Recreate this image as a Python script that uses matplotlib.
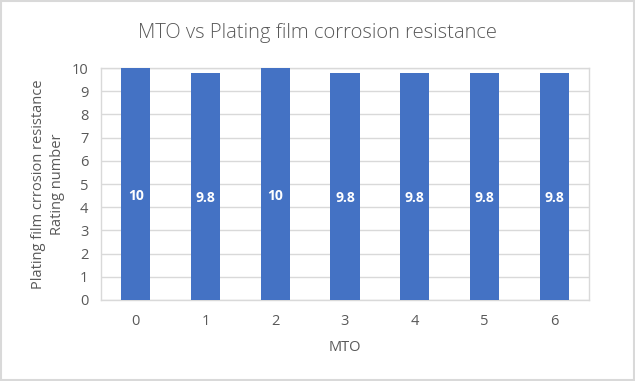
import matplotlib.pyplot as plt
import matplotlib.patches as mpatches

mto = ["0", "1", "2", "3", "4", "5", "6"]
rating = [10, 9.8, 10, 9.8, 9.8, 9.8, 9.8]
yticks = list(range(0, 11))

gray = "#595959"
plt.rcParams["font.family"] = ["Open Sans", "DejaVu Sans"]

fig = plt.figure(figsize=(6.35, 3.81), dpi=100)
ax = fig.add_axes([0.159, 0.2126, 0.7686, 0.6089])

xs = range(len(mto))
bars = ax.bar(xs, rating, width=0.42, color="#4472c4", zorder=3)
for x, v in zip(xs, rating):
    ax.text(x, v * 0.45, "%g" % v, ha="center", va="center",
            color="white", fontsize=10, fontweight="bold", zorder=4)

ax.set_xlim(-0.5, len(mto) - 0.5)
ax.set_ylim(0, 10)
ax.set_yticks(yticks)
ax.set_xticks(list(xs))
ax.set_xticklabels(mto)
ax.tick_params(length=0, colors=gray, labelsize=10.5)
ax.tick_params(axis="x", pad=10)
ax.tick_params(axis="y", pad=9)
ax.grid(axis="y", color="#d9d9d9", linewidth=1, zorder=0)
for s in ax.spines.values():
    s.set_color("#d9d9d9")
    s.set_linewidth(1)

ax.set_xlabel("MTO", color=gray, fontsize=10.5, labelpad=8)
ax.set_ylabel("Plating film crrosion resistance\nRating number",
              color=gray, fontsize=10.5, labelpad=5, linespacing=1.35)
fig.suptitle("MTO vs Plating film corrosion resistance", color=gray,
             fontsize=14.5, fontweight="light", y=0.94)

# outer chart border
fig.patches.append(mpatches.Rectangle((0.002, 0.003), 0.996, 0.994,
                                      transform=fig.transFigure, fill=False,
                                      edgecolor="#d9d9d9", linewidth=1.5))

fig.savefig("out.png", dpi=100)
